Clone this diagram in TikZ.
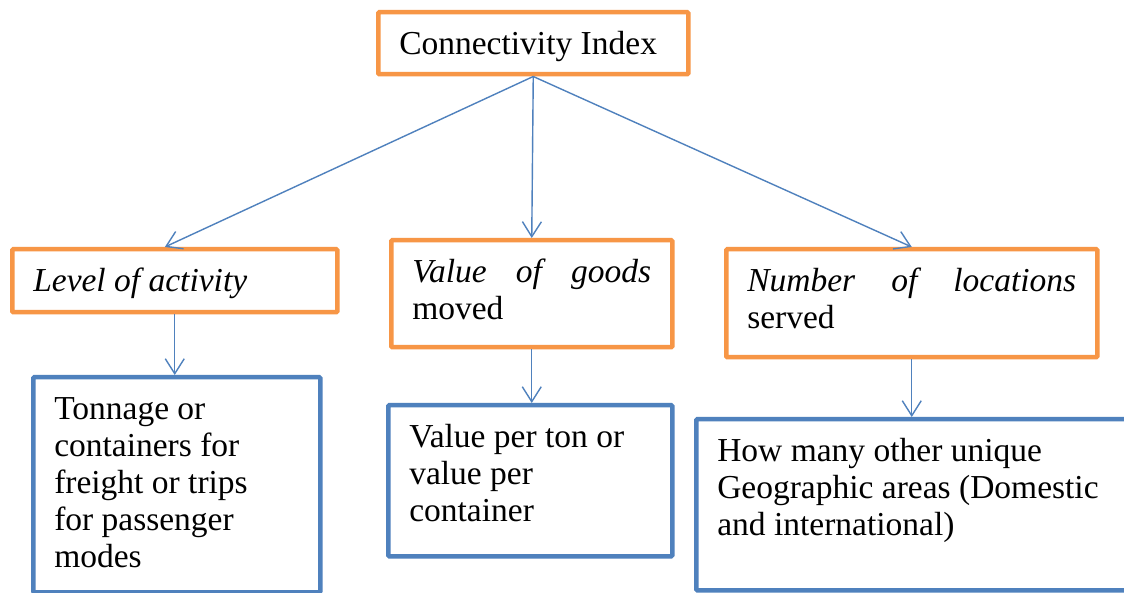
\documentclass[tikz,border=0pt]{standalone}
\usepackage{fontspec}
\setmainfont{Liberation Serif}
\usetikzlibrary{arrows.meta,calc}
\definecolor{boxorange}{HTML}{F79646}
\definecolor{boxblue}{HTML}{4F81BD}
% box content: outer width, outer height, text (top aligned)
\newcommand{\inbox}[3]{\parbox[c][\dimexpr #2pt-32pt\relax][t]{\dimexpr #1pt-42pt\relax}{\strut #3}}
\begin{document}
\begin{tikzpicture}[x=1pt,y=1pt,
  box/.style={draw, line width=4.5pt, rounded corners=1pt, fill=white, anchor=north west,
    inner xsep=21pt, inner ysep=16pt, font=\fontsize{33.5}{37}\selectfont},
  obox/.style={box, draw=boxorange},
  bbox/.style={box, draw=boxblue},
  link/.style={draw=boxblue, line width=1.4pt, -{Straight Barb[length=15pt,width=19pt]}}]
\fill[white] (0,0) rectangle (1124,592);
\begin{scope}
\clip (0,0) rectangle (1124,592);

% upper row
\node[obox] (ci)  at (376,582) {\inbox{310}{62}{Connectivity Index}};
\node[obox] (lev) at (10,345)  {\inbox{325}{63}{\itshape Level of activity}};
\node[obox] (val) at (389,354) {\inbox{281}{107}{\makebox[\linewidth]{\itshape Value\hfill of\hfill goods}\\ moved}};
\node[obox] (num) at (724,345) {\inbox{371}{108}{\makebox[\linewidth]{\itshape Number\hfill of\hfill locations}\\ served}};

% lower row
\node[bbox] (ton) at (31,217)  {\inbox{287}{215}{Tonnage or\\ containers for\\ freight or trips\\ for passenger\\ modes}};
\node[bbox] (vpt) at (386,189) {\inbox{284}{151}{Value per ton or\\ value per\\ container}};
\node[bbox] (geo) at (694,175) {\inbox{440}{171}{How many other unique\\ Geographic areas (Domestic\\ and international)}};

% connectors
\draw[link] (ci.south) -- ($(lev.north west)!0.47!(lev.north east)$);
\draw[link] (ci.south) -- (val.north);
\draw[link] (ci.south) -- (num.north);
\draw[link] (lev.south) -- (lev.south |- ton.north);
\draw[link] (val.south) -- (val.south |- vpt.north);
\draw[link] (num.south) -- (num.south |- geo.north);
\end{scope}
\pgfresetboundingbox
\useasboundingbox (0,0) rectangle (1124,592);
\end{tikzpicture}
\end{document}
